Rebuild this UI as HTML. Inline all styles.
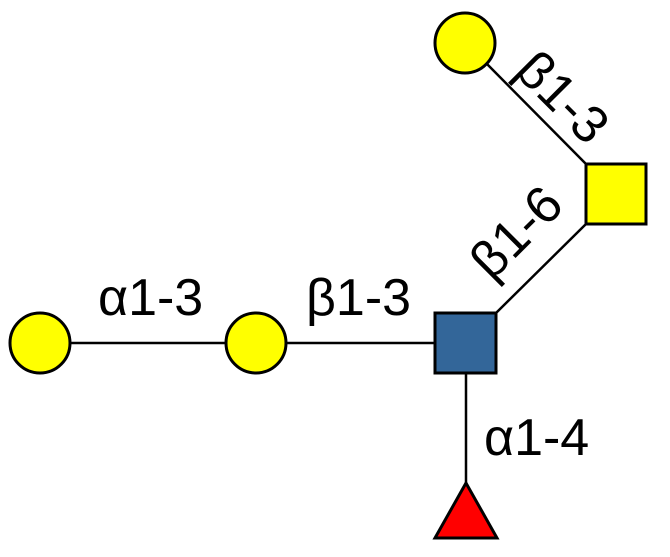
<!DOCTYPE html>
<html><head><meta charset="utf-8"><style>html,body{margin:0;padding:0;background:#fff}</style></head>
<body>
<svg width="670" height="552" viewBox="0 0 670 552" xmlns="http://www.w3.org/2000/svg" font-family="Liberation Sans, sans-serif" font-size="52">
<g stroke="#000" stroke-width="2.5">
<line x1="70" y1="343" x2="226" y2="343"/>
<line x1="286" y1="343" x2="435" y2="343"/>
<line x1="466" y1="373" x2="466" y2="485"/>
<line x1="496" y1="313" x2="586" y2="224"/>
<line x1="486" y1="63" x2="586" y2="164"/>
</g>
<g stroke="#000" stroke-width="3">
<circle cx="40" cy="343" r="30" fill="#ffff00"/>
<circle cx="256" cy="343" r="30" fill="#ffff00"/>
<circle cx="465" cy="43" r="30" fill="#ffff00"/>
<rect x="435" y="313" width="61" height="60" fill="#336699"/>
<rect x="586" y="164" width="60" height="60" fill="#ffff00"/>
<polygon points="466,483 435,538 497,538" fill="#ff0000"/>
</g>
<text x="98" y="315">α1-3</text>
<text x="306" y="315">β1-3</text>
<text x="484" y="455">α1-4</text>
<text transform="translate(516,232) rotate(-45)" text-anchor="middle" dy="18">β1-6</text>
<text transform="translate(563,97) rotate(45)" text-anchor="middle" dy="18">β1-3</text>
</svg>
</body></html>
